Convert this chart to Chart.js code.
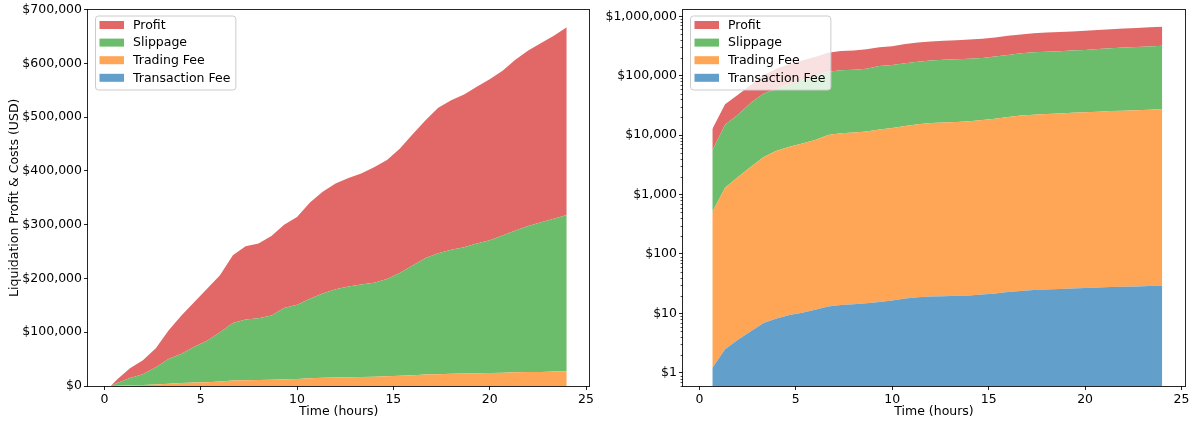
<!DOCTYPE html>
<html><head><meta charset="utf-8">
<script src="https://cdn.jsdelivr.net/npm/chart.js@4.4.0/dist/chart.umd.min.js"></script>
<style>
html,body{margin:0;padding:0;background:#fff;}
#wrap{position:relative;width:1193px;height:421px;overflow:hidden;}
.box{position:absolute;top:0;height:421px;}
#b1{left:0;width:596px;}
#b2{left:596px;width:597px;}
</style></head><body>
<div id="wrap">
  <div class="box" id="b1"><canvas id="c1"></canvas></div>
  <div class="box" id="b2"><canvas id="c2"></canvas></div>
</div>
<script>
// ---- data ----
const hours = [0.33, 0.67, 1.33, 2.0, 2.67, 3.33, 4.0, 4.67, 5.33, 6.0,
  6.67, 7.33, 8.0, 8.67, 9.33, 10.0, 10.67, 11.33, 12.0, 12.67,
  13.33, 14.0, 14.67, 15.33, 16.0, 16.67, 17.33, 18.0, 18.67, 19.33,
  20.0, 20.67, 21.33, 22.0, 22.67, 23.33, 24.0];
const transactionFee = [0, 1.2, 2.5, 3.6, 5.0, 6.9, 8.2, 9.4, 10.3, 11.5,
  13.1, 13.8, 14.3, 14.8, 15.5, 16.5, 17.8, 18.7, 19.2, 19.5,
  19.8, 20.1, 20.7, 21.6, 22.8, 23.9, 24.8, 25.3, 25.7, 26.2,
  26.7, 27.2, 27.7, 28.1, 28.4, 28.8, 29.3];
const tradingFee = [0, 508, 1297, 1976, 2945, 4293, 5442, 6391, 7190, 8288,
  10037, 10706, 11036, 11535, 12384, 13133, 14282, 15281, 15981, 16330,
  16630, 17080, 17879, 18878, 20127, 21276, 22025, 22575, 23024, 23674,
  24223, 24823, 25322, 25772, 26222, 26771, 27371];
const slippage = [0, 4991, 13700, 20020, 32050, 45700, 54550, 66600, 76800, 91700,
  106950, 112780, 114950, 119450, 132600, 137850, 147700, 156700, 164000, 168650,
  171850, 174900, 181100, 191100, 203850, 216700, 224950, 230900, 234950, 241300,
  246750, 255150, 263650, 271700, 278250, 284200, 290600];
const profit = [0, 7200, 18000, 26000, 35000, 53000, 71000, 83000, 97000, 106000,
  126000, 136500, 139000, 148000, 155000, 163000, 179000, 189000, 196500, 201500,
  206500, 214500, 221000, 231000, 244000, 256000, 270500, 278000, 284000, 291500,
  299500, 306000, 317500, 326500, 333000, 340000, 349000];

const seriesNames = ['Transaction Fee', 'Trading Fee', 'Slippage', 'Profit'];
const seriesValues = [transactionFee, tradingFee, slippage, profit];
const seriesColors = ['#62a0cb', '#ffa556', '#6bbc6b', '#e26868'];

const xTicks = [0, 5, 10, 15, 20, 25];
const linearYTicks = [0, 100000, 200000, 300000, 400000, 500000, 600000, 700000];
const logYTicks = [1, 10, 100, 1000, 10000, 100000, 1000000];
const xTitle = 'Time (hours)';
const yTitle = 'Liquidation Profit & Costs (USD)';

// ---- helpers ----
const FONT = '"DejaVu Sans", sans-serif';
const FS = 12.5;
Chart.defaults.font.family = FONT;
Chart.defaults.font.size = FS;
Chart.defaults.color = '#000';

function dollars(v) {
  return '$' + String(Math.round(v)).replace(/\B(?=(\d{3})+(?!\d))/g, ',');
}

function makeDatasets(positiveOnly) {
  return seriesNames.map((name, i) => {
    const pts = [];
    hours.forEach((h, k) => {
      if (positiveOnly && seriesValues[i][k] <= 0) return;
      pts.push({x: h, y: seriesValues[i][k]});
    });
    return {
      label: name,
      data: pts,
      backgroundColor: seriesColors[i],
      borderColor: seriesColors[i],
      borderWidth: 0,
      pointRadius: 0,
      tension: 0,
      fill: i === 0 ? 'start' : '-1'
    };
  });
}

const framePlugin = {
  id: 'frame',
  afterDraw(chart) {
    const {ctx, chartArea: a} = chart;
    ctx.save();
    ctx.strokeStyle = 'rgba(0,0,0,0.85)';
    ctx.lineWidth = 1;
    const l = Math.round(a.left) - 0.5, t = Math.round(a.top) - 0.5;
    const r = Math.round(a.right) + 0.5, b = Math.round(a.bottom) + 0.5;
    ctx.strokeRect(l, t, r - l, b - t);
    ctx.restore();
  }
};

const legendPlugin = {
  id: 'boxLegend',
  afterDraw(chart) {
    const {ctx, chartArea: a} = chart;
    const items = chart.data.datasets.map(d => ({label: d.label, color: d.backgroundColor})).reverse();
    ctx.save();
    ctx.font = FS + 'px ' + FONT;
    const tw = Math.max(...items.map(it => ctx.measureText(it.label).width));
    const x0 = a.left + 7, y0 = a.top + 6;
    const w = 38 + tw + 5, h = 74;
    ctx.beginPath();
    ctx.roundRect(x0 + 0.5, y0 + 0.5, w, h, 3);
    ctx.fillStyle = 'rgba(255,255,255,0.8)';
    ctx.fill();
    ctx.strokeStyle = '#cccccc';
    ctx.lineWidth = 1;
    ctx.stroke();
    items.forEach((it, i) => {
      const cy = y0 + 9.5 + i * 17.6;
      ctx.fillStyle = it.color;
      ctx.fillRect(x0 + 4.5, cy - 4, 24.5, 8);
      ctx.fillStyle = '#000';
      ctx.textBaseline = 'middle';
      ctx.textAlign = 'left';
      ctx.fillText(it.label, x0 + 38, cy + 0.5);
    });
    ctx.restore();
  }
};

const minorTickPlugin = {
  id: 'minorTicks',
  afterDraw(chart) {
    const {ctx, chartArea: a} = chart;
    const y = chart.scales.y;
    ctx.save();
    ctx.strokeStyle = 'rgba(0,0,0,0.85)';
    ctx.lineWidth = 0.8;
    ctx.beginPath();
    for (let e = -1; e <= 6; e++) {
      for (let m = 2; m <= 9; m++) {
        const v = m * Math.pow(10, e);
        if (v < y.min || v > y.max) continue;
        const py = Math.round(y.getPixelForValue(v)) + 0.5;
        ctx.moveTo(a.left - 2.5, py);
        ctx.lineTo(a.left, py);
      }
    }
    ctx.stroke();
    ctx.restore();
  }
};

function xScale() {
  return {
    type: 'linear',
    min: -0.85,
    max: 25.18,
    afterBuildTicks: s => { s.ticks = xTicks.map(v => ({value: v})); },
    afterFit: s => { s.height = 35; },
    ticks: {padding: 2, color: '#000', font: {size: FS}, maxRotation: 0, autoSkip: false},
    grid: {display: true, drawOnChartArea: false, drawTicks: true, tickLength: 4, color: '#222', lineWidth: 1},
    border: {display: false},
    title: {display: true, text: xTitle, color: '#000', font: {size: FS}, padding: {top: 0, bottom: 2}}
  };
}

// ---- left chart: linear ----
new Chart(document.getElementById('c1'), {
  type: 'line',
  data: {datasets: makeDatasets(false)},
  options: {
    responsive: true,
    maintainAspectRatio: false,
    animation: false,
    layout: {padding: {left: 0, top: 8, right: 6, bottom: 0}},
    plugins: {legend: {display: false}, tooltip: {enabled: false}},
    scales: {
      x: xScale(),
      y: {
        type: 'linear',
        stacked: true,
        min: 0,
        max: 700000,
        afterBuildTicks: s => { s.ticks = linearYTicks.map(v => ({value: v})); },
        afterFit: s => { s.width = 88; },
        ticks: {padding: 2, color: '#000', font: {size: FS}, callback: v => dollars(v), autoSkip: false},
        grid: {display: true, drawOnChartArea: false, drawTicks: true, tickLength: 4, color: '#222', lineWidth: 1},
        border: {display: false},
        title: {display: true, text: yTitle, color: '#000', font: {size: FS}, padding: {top: 7, bottom: 0}}
      }
    }
  },
  plugins: [framePlugin, legendPlugin]
});

// ---- right chart: logarithmic ----
new Chart(document.getElementById('c2'), {
  type: 'line',
  data: {datasets: makeDatasets(true)},
  options: {
    responsive: true,
    maintainAspectRatio: false,
    animation: false,
    layout: {padding: {left: 0, top: 8, right: 8, bottom: 0}},
    plugins: {legend: {display: false}, tooltip: {enabled: false}},
    scales: {
      x: xScale(),
      y: {
        type: 'logarithmic',
        stacked: true,
        min: 0.613,
        max: 1300000,
        afterBuildTicks: s => { s.ticks = logYTicks.map(v => ({value: v})); },
        afterFit: s => { s.width = 87; },
        ticks: {padding: 2, color: '#000', font: {size: FS}, callback: v => dollars(v), autoSkip: false},
        grid: {display: true, drawOnChartArea: false, drawTicks: true, tickLength: 4, color: '#222', lineWidth: 1},
        border: {display: false}
      }
    }
  },
  plugins: [framePlugin, minorTickPlugin, legendPlugin]
});
</script>
</body></html>
